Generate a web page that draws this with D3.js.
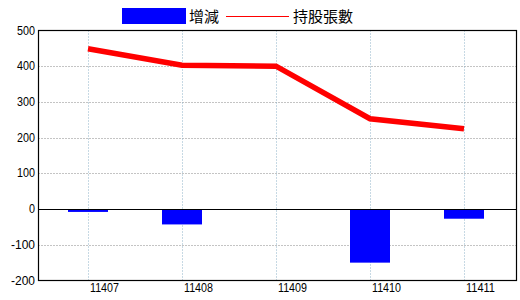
<!DOCTYPE html>
<html><head><meta charset="utf-8">
<script src="https://cdn.jsdelivr.net/npm/d3@7"></script>
<style>body{margin:0;background:#fff}svg{display:block}</style>
</head><body>
<script>
const categories = ["11407","11408","11409","11410","11411"];
const changeValues = [-8, -43, 0, -150, -27];
const holderValues = [449, 403, 400, 253, 225];
const yTicks = [-200,-100,0,100,200,300,400,500];
const legendLabels = ["增減","持股張數"];

const W=520,H=300;
const L=38.5,R=516.5,T=30.5,B=280.5;
const svg=d3.select("body").append("svg").attr("width",W).attr("height",H);

const x=d3.scalePoint().domain(categories).range([L-1.5,R-1.5]).padding(0.5426);
const y=d3.scaleLinear().domain([-200,500]).range([B,T]);

// grid
svg.append("g").selectAll("line").data(yTicks.filter(d=>d!==0&&d!==500&&d!==-200)).join("line")
 .attr("x1",L).attr("x2",R).attr("y1",d=>Math.round(y(d))+0.5).attr("y2",d=>Math.round(y(d))+0.5)
 .attr("stroke","#888").attr("stroke-dasharray","1,2");
svg.append("g").selectAll("line").data(categories).join("line")
 .attr("x1",d=>Math.round(x(d))+0.5).attr("x2",d=>Math.round(x(d))+0.5).attr("y1",T).attr("y2",B)
 .attr("stroke","#8fb3c8").attr("stroke-dasharray","1,2");

// bars
const bw=40;
svg.append("g").selectAll("rect").data(categories.map((c,i)=>({c,v:changeValues[i]}))).join("rect")
 .attr("x",d=>Math.round(x(d.c))-bw/2).attr("width",bw)
 .attr("y",d=>Math.min(y(0),y(d.v))).attr("height",d=>Math.abs(y(d.v)-y(0)))
 .attr("fill","#0000ff");

// zero line
svg.append("line").attr("x1",L).attr("x2",R).attr("y1",Math.round(y(0))+0.5).attr("y2",Math.round(y(0))+0.5)
 .attr("stroke","#000").attr("stroke-width",1.2);

// line
const line=d3.line().x((d,i)=>x(categories[i])).y(d=>y(d));
svg.append("path").datum(holderValues).attr("d",line).attr("fill","none")
 .attr("stroke","#ff0000").attr("stroke-width",5.5);

// frame
svg.append("rect").attr("x",L).attr("y",T).attr("width",R-L).attr("height",B-T)
 .attr("fill","none").attr("stroke","#000").attr("stroke-width",1.2);

// y axis labels
svg.append("g").selectAll("text").data(yTicks).join("text")
 .attr("x",35).attr("y",d=>y(d)+4).attr("text-anchor","end")
 .attr("font-family","Liberation Sans, Arial, sans-serif").attr("font-size",12)
 .attr("textLength",d=>String(d).length*6).attr("lengthAdjust","spacingAndGlyphs")
 .text(d=>d);
// x axis labels
svg.append("g").selectAll("text").data(categories).join("text")
 .attr("x",d=>x(d)+2).attr("y",292).attr("text-anchor","start")
 .attr("font-family","Liberation Sans, Arial, sans-serif").attr("font-size",12)
 .attr("textLength",29).attr("lengthAdjust","spacingAndGlyphs")
 .text(d=>d);

// legend
const lg=svg.append("g");
lg.append("rect").attr("x",122).attr("y",8).attr("width",64).attr("height",16).attr("fill","#0000ff");
lg.append("text").attr("x",189).attr("y",22).attr("font-family","Noto Sans CJK TC, sans-serif").attr("font-size",15).text(legendLabels[0]);
lg.append("line").attr("x1",226).attr("x2",289).attr("y1",16.5).attr("y2",16.5).attr("stroke","#ff0000").attr("stroke-width",1);
lg.append("text").attr("x",293).attr("y",22).attr("font-family","Noto Sans CJK TC, sans-serif").attr("font-size",15).text(legendLabels[1]);
</script>
</body></html>
